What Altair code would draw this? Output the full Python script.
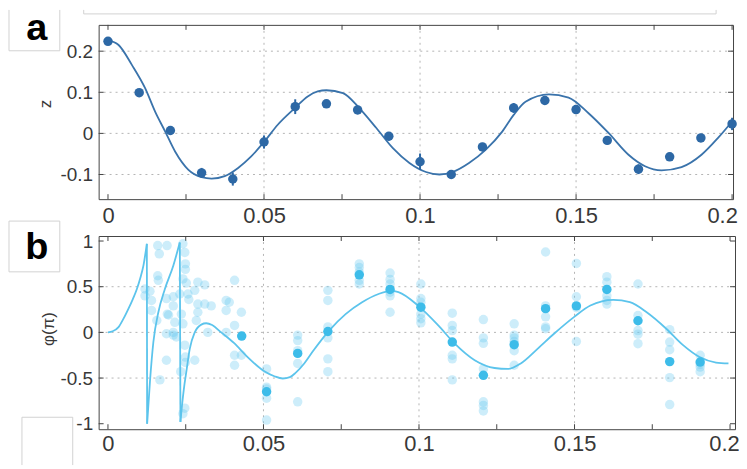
import altair as alt
import pandas as pd

# ---------------- panel a : z(t) ----------------
t_a = [0.00, 0.01, 0.02, 0.03, 0.04, 0.05, 0.06, 0.07, 0.08, 0.09, 0.10,
       0.11, 0.12, 0.13, 0.14, 0.15, 0.16, 0.17, 0.18, 0.19, 0.20]
z_a = [0.224, 0.099, 0.007, -0.096, -0.111, -0.021, 0.065, 0.072, 0.057, -0.007, -0.069,
       -0.100, -0.033, 0.062, 0.080, 0.058, -0.017, -0.087, -0.057, -0.011, 0.023]
z_err = [0.008, 0.008, 0.010, 0.012, 0.016, 0.016, 0.018, 0.008, 0.010, 0.010, 0.020,
         0.010, 0.010, 0.012, 0.010, 0.010, 0.010, 0.012, 0.010, 0.010, 0.015]

fit_a_t = [0.0, 0.0034, 0.0077, 0.0119, 0.0151, 0.0183, 0.0215, 0.0257, 0.0300, 0.0332,
           0.0374, 0.0417, 0.0459, 0.0502, 0.0544, 0.0598, 0.0640, 0.0672, 0.0700, 0.0753,
           0.0806, 0.0860, 0.0913, 0.0966, 0.1019, 0.1062, 0.1104, 0.1157, 0.1210, 0.1264,
           0.1300, 0.1338, 0.1413, 0.1476, 0.1540, 0.1604, 0.1668, 0.1721, 0.1774, 0.1838,
           0.1902, 0.1955, 0.2000]
fit_a_z = [0.227, 0.215, 0.166, 0.110, 0.053, 0.005, -0.044, -0.088, -0.1065, -0.110,
           -0.104, -0.084, -0.056, -0.019, 0.021, 0.061, 0.090, 0.102, 0.105, 0.098,
           0.061, 0.013, -0.036, -0.072, -0.094, -0.100, -0.094, -0.072, -0.040, 0.005,
           0.045, 0.077, 0.095, 0.087, 0.049, 0.001, -0.052, -0.080, -0.090, -0.082,
           -0.052, -0.011, 0.029]

# ---------------- panel b : phi(t) ----------------
cloud_t = [0.0119, 0.0119, 0.0135, 0.0140, 0.0140, 0.0160, 0.0165, 0.0190, 0.0160, 0.0162,
           0.0188, 0.0191, 0.0157, 0.0195, 0.0188, 0.0210, 0.0188, 0.0167, 0.0210, 0.0215,
           0.0210, 0.0220, 0.0241, 0.0247, 0.0249, 0.0249, 0.0241, 0.0231, 0.0236, 0.0241,
           0.0247, 0.0249, 0.0249, 0.0234, 0.0241, 0.0247, 0.0279, 0.0279, 0.0289, 0.0311,
           0.0289, 0.0289, 0.0284, 0.0311, 0.0332, 0.0321, 0.0380, 0.0380, 0.0380, 0.0257,
           0.0260, 0.0252, 0.0210, 0.0407, 0.0390, 0.0429, 0.0407, 0.0407, 0.0407, 0.0429]
cloud_phi = [0.475, 0.40, 0.45, 0.35, 0.24, 0.95, 0.86, 0.95, 0.62, 0.57,
             0.37, 0.20, 0.13, 0.19, -0.015, -0.03, -0.305, -0.52, 0.29, 0.11,
             0.0, -0.05, 0.97, 0.875, 0.75, 0.69, 0.585, 0.42, 0.20, 0.094,
             -0.14, -0.27, -0.33, -0.43, -0.89, -0.83, -0.305, 0.46, 0.55, 0.52,
             0.31, 0.22, 0.13, 0.31, 0.29, 0.0, 0.35, 0.24, 0.0, 0.42,
             0.36, 0.54, 0.39, 0.57, 0.33, 0.22, 0.076, -0.25, -0.36, -0.25]

col_t = [0.051, 0.061, 0.0707, 0.0808, 0.0907, 0.1006, 0.1107, 0.1207, 0.1306, 0.1407,
         0.1506, 0.1604, 0.1704, 0.1806, 0.1904]
col_phi = [
    [-0.40, -0.60, -0.62, -0.72, -0.96],
    [-0.03, -0.09, -0.20, -0.34, -0.76],
    [0.46, 0.35, 0.06, -0.06, -0.29, -0.43],
    [0.75, 0.71, 0.66, 0.57, 0.53],
    [0.65, 0.58, 0.53, 0.44, 0.40, 0.22],
    [0.53, 0.37, 0.33, 0.20, 0.15, 0.105],
    [0.21, 0.076, 0.02, -0.25, -0.29, -0.52],
    [0.14, -0.06, -0.12, -0.40, -0.76, -0.80, -0.86],
    [0.094, -0.03, -0.06, -0.10, -0.20, -0.36],
    [0.88, 0.29, 0.17, 0.06, 0.04],
    [0.755, 0.39, 0.27, -0.10],
    [0.61, 0.55, 0.40, 0.35, 0.31],
    [0.53, 0.185, 0.02, -0.02, -0.124],
    [0.03, -0.106, -0.19, -0.495, -0.79],
    [-0.25, -0.35, -0.38, -0.43],
]

mean_t = [0.043, 0.051, 0.061, 0.0707, 0.0808, 0.0907, 0.1006, 0.1107, 0.1207, 0.1306,
          0.1407, 0.1506, 0.1604, 0.1704, 0.1806, 0.1904]
mean_phi = [-0.04, -0.65, -0.23, 0.01, 0.63, 0.47, 0.276, -0.106, -0.47, -0.135,
            0.26, 0.29, 0.47, 0.127, -0.32, -0.325]

# fitted phase curve, as separate pieces (ramps, wrap-around jumps, smooth tail)
fit_b_pieces_t = [
    [0.0, 0.0015, 0.0034, 0.0050, 0.0066, 0.0080, 0.0093, 0.0104, 0.0114, 0.0125],
    [0.0125, 0.0126],
    [0.0126, 0.0135, 0.0146, 0.0162, 0.0183, 0.0210, 0.0231],
    [0.0231, 0.0233],
    [0.0233, 0.0238, 0.0244, 0.0252, 0.0263, 0.0279, 0.0300, 0.0316, 0.0335, 0.0364,
     0.0405, 0.0449, 0.0500, 0.0535, 0.0562, 0.0585, 0.0604, 0.0631, 0.0657, 0.0711,
     0.0764, 0.0817, 0.0870, 0.0910, 0.0934, 0.0998, 0.1062, 0.1115, 0.1179, 0.1243,
     0.1285, 0.1327, 0.1381, 0.1434, 0.1498, 0.1551, 0.1625, 0.1678, 0.1732, 0.1795,
     0.1849, 0.1902, 0.1955, 0.1995],
]
fit_b_pieces_phi = [
    [0.0, 0.012, 0.058, 0.15, 0.26, 0.365, 0.475, 0.595, 0.73, 0.97],
    [0.97, -1.0],
    [-1.0, -0.54, -0.105, 0.22, 0.475, 0.73, 0.985],
    [0.985, -0.98],
    [-0.98, -0.80, -0.62, -0.43, -0.18, 0.0, 0.085, 0.10, 0.08, 0.0,
     -0.115, -0.27, -0.42, -0.48, -0.505, -0.49, -0.44, -0.34, -0.215, 0.02,
     0.20, 0.33, 0.42, 0.455, 0.44, 0.29, 0.076, -0.124, -0.305, -0.39,
     -0.40, -0.34, -0.18, -0.015, 0.167, 0.294, 0.356, 0.33, 0.22, 0.04,
     -0.14, -0.27, -0.33, -0.34],
]

x_labels = [0, 0.05, 0.1, 0.15, 0.2]
x_minor = [0, 0.025, 0.05, 0.075, 0.1, 0.125, 0.15, 0.175, 0.2]
x_grid = [0.05, 0.1, 0.15]
ya_ticks = [-0.1, 0, 0.1, 0.2]
ya_grid = [-0.1, 0, 0.1, 0.2]
yb_ticks = [-1, -0.5, 0, 0.5, 1]
yb_grid = [-0.5, 0, 0.5]

# ---------------- styling ----------------
FONT = "Liberation Sans"
TXT = "#383838"
GRID = "#b4b4b4"
FRAME = "#444444"
DARK = "#2d68a5"
LBL = "datum.value < 0 ? '-' + format(-datum.value, '~g') : format(datum.value, '~g')"

WA, HA = 637, 175
WB, HB = 639, 194
XA = [-0.003, 0.2003]
XB = [-0.003, 0.2016]
YA = [-0.16, 0.264]
YB = [-1.06, 1.055]

one = pd.DataFrame({"k": [0]})


def sc(dom):
    return alt.Scale(domain=dom, nice=False, zero=False)


def xaxis(pad, last_shift):
    return alt.Axis(values=x_labels, labelExpr=LBL, grid=False, ticks=False, domain=False,
                    labelFontSize=22, labelPadding=pad, labelFont=FONT, labelColor=TXT,
                    labelOffset=alt.condition("datum.value > 0.19", alt.value(last_shift), alt.value(0)),
                    labelFlush=False, labelOverlap=False, title=None)


def yaxis(vals, title, tpad, ty):
    return alt.Axis(values=vals, labelExpr=LBL, grid=False, ticks=False, domain=False,
                    labelFontSize=19, labelPadding=6, labelFont=FONT, labelColor=TXT,
                    labelOverlap=False, title=title, titleFont=FONT, titleFontSize=17,
                    titleFontWeight="normal", titleColor=TXT, titlePadding=tpad, titleY=ty)


def frame_ticks(xvals, yvals, X, Y, W, H, L=5):
    xd = pd.DataFrame({"v": xvals})
    yd = pd.DataFrame({"v": yvals})
    st = dict(color=FRAME, strokeWidth=1)
    return [
        alt.Chart(xd).mark_rule(**st).encode(x=X("v:Q"), y=alt.value(H), y2=alt.value(H - L)),
        alt.Chart(xd).mark_rule(**st).encode(x=X("v:Q"), y=alt.value(0), y2=alt.value(L)),
        alt.Chart(yd).mark_rule(**st).encode(y=Y("v:Q"), x=alt.value(0), x2=alt.value(L)),
        alt.Chart(yd).mark_rule(**st).encode(y=Y("v:Q"), x=alt.value(W), x2=alt.value(W - L)),
    ]


def grid(xvals, yvals, X, Y):
    st = dict(color=GRID, strokeWidth=1, strokeDash=[2, 4])
    return [
        alt.Chart(pd.DataFrame({"v": xvals})).mark_rule(**st).encode(x=X("v:Q")),
        alt.Chart(pd.DataFrame({"v": yvals})).mark_rule(**st).encode(y=Y("v:Q")),
    ]


def edge(x1, x2, y1, y2, color="#d2d2d2"):
    return alt.Chart(one).mark_rule(color=color, strokeWidth=1).encode(
        x=alt.value(x1), x2=alt.value(x2), y=alt.value(y1), y2=alt.value(y2))


def panel_label(letter, y):
    return alt.Chart(one).mark_text(text=letter, font=FONT, fontSize=38, fontWeight="bold",
                                    color="black", align="center", baseline="alphabetic").encode(
        x=alt.value(-62), y=alt.value(y))


# ---------------- panel a ----------------
xs_a, ys_a = sc(XA), sc(YA)
AX_XA = xaxis(6, -10)
AX_YA = yaxis(ya_ticks, "z", 6, 79)


def XA_(f):
    return alt.X(f, scale=xs_a, axis=AX_XA)


def YA_(f):
    return alt.Y(f, scale=ys_a, axis=AX_YA)


df_a = pd.DataFrame({"t": t_a, "z": z_a})
df_a["lo"] = [z - e for z, e in zip(z_a, z_err)]
df_a["hi"] = [z + e for z, e in zip(z_a, z_err)]
fit_a = pd.DataFrame({"t": fit_a_t, "z": fit_a_z})

fit_line_a = alt.Chart(fit_a).mark_line(color="#3a73ab", strokeWidth=1.8, interpolate="monotone").encode(
    x=XA_("t:Q"), y=YA_("z:Q"))
err_a = alt.Chart(df_a).mark_rule(color=DARK, strokeWidth=2).encode(
    x=XA_("t:Q"), y=YA_("lo:Q"), y2="hi:Q")
pts_a = alt.Chart(df_a).mark_circle(size=90, color=DARK, opacity=1).encode(
    x=XA_("t:Q"), y=YA_("z:Q"))

deco_a = [
    edge(-90, -90, -15, 26), edge(-39, -39, -15, 26), edge(-90, -39, 26, 26),
    edge(-15, -15, -15, -11), edge(620, 620, -15, -11), edge(-15, 620, -11, -11),
    panel_label("a", 15),
]

top = alt.layer(*grid(x_grid, ya_grid, XA_, YA_), *frame_ticks(x_minor, ya_ticks, XA_, YA_, WA, HA),
                fit_line_a, err_a, pts_a, *deco_a).properties(width=WA, height=HA)

# ---------------- panel b ----------------
xs_b, ys_b = sc(XB), sc(YB)
AX_XB = xaxis(4, -6)
AX_YB = yaxis(yb_ticks, "φ(π)", 3, 93)


def XB_(f):
    return alt.X(f, scale=xs_b, axis=AX_XB)


def YB_(f):
    return alt.Y(f, scale=ys_b, axis=AX_YB)


light_t = list(cloud_t)
light_phi = list(cloud_phi)
for tt, vals in zip(col_t, col_phi):
    light_t += [tt] * len(vals)
    light_phi += vals
df_light = pd.DataFrame({"t": light_t, "phi": light_phi})
df_mean = pd.DataFrame({"t": mean_t, "phi": mean_phi})

rows = []
k = 0
for s, (pt, pp) in enumerate(zip(fit_b_pieces_t, fit_b_pieces_phi)):
    for a, b in zip(pt, pp):
        rows.append({"t": a, "phi": b, "seg": s, "i": k})
        k += 1
fit_b = pd.DataFrame(rows)

light_pts = alt.Chart(df_light).mark_circle(size=90, color="#63c6ee", opacity=0.32).encode(
    x=XB_("t:Q"), y=YB_("phi:Q"))
fit_line_b = alt.Chart(fit_b).mark_line(color="#5cc4ec", strokeWidth=1.8, interpolate="monotone").encode(
    x=XB_("t:Q"), y=YB_("phi:Q"), detail="seg:N", order="i:Q")
mean_pts = alt.Chart(df_mean).mark_circle(size=90, color="#3dbce9", opacity=1).encode(
    x=XB_("t:Q"), y=YB_("phi:Q"))

deco_b = [
    edge(-90, -90, -15, 36), edge(-39, -39, -15, 36), edge(-90, -39, -15, -15), edge(-90, -39, 36, 36),
    edge(-77, -77, 182, 230), edge(-26, -26, 182, 230), edge(-77, -26, 182, 182),
    panel_label("b", 23),
]

bottom = alt.layer(*grid(x_grid, yb_grid, XB_, YB_), *frame_ticks(x_minor, yb_ticks, XB_, YB_, WB, HB),
                   light_pts, fit_line_b, mean_pts, *deco_b).properties(width=WB, height=HB)

chart = alt.vconcat(top, bottom, spacing=37, bounds="flush").properties(
    padding={"left": 0, "top": 0, "right": -1, "bottom": 0}
).configure_view(stroke=FRAME, strokeWidth=1)

chart.save("out.html", embed_options={"renderer": "svg", "actions": False})
